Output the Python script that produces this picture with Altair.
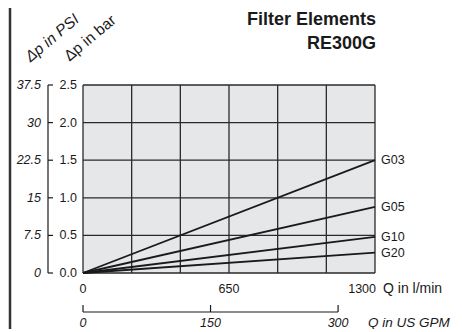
import altair as alt
import pandas as pd

# ---- data ----
series = ["G03", "G05", "G10", "G20"]
dp_at_max = [1.5, 0.88, 0.48, 0.27]          # bar at 1300 l/min
q_max = 1300
bar_ticks = [0.0, 0.5, 1.0, 1.5, 2.0, 2.5]
bar_labels = ["0.0", "0.5", "1.0", "1.5", "2.0", "2.5"]
psi_ticks = [0, 7.5, 15, 22.5, 30, 37.5]
psi_labels = ["0", "7.5", "15", "22.5", "30", "37.5"]
psi_per_bar = 15
lpm_grid = [0, 1300 / 6, 2600 / 6, 650, 5200 / 6, 6500 / 6, 1300]
lpm_ticks = [0, 650]
lpm_labels = ["0", "650"]
gpm_ticks = [0, 150, 300]
gpm_labels = ["0", "150", "300"]
lpm_per_gpm = 3.785411784

W, H = 292, 188
FONT = "Liberation Sans"
INK = "#1a1a1a"
GRID = "#2a2a2a"
FS = 12.5

rows = []
for s, v in zip(series, dp_at_max):
    rows.append({"series": s, "q": 0, "dp": 0.0})
    rows.append({"series": s, "q": q_max, "dp": v})
lines_df = pd.DataFrame(rows)
ends_df = pd.DataFrame({"series": series, "q": [q_max] * len(series), "dp": dp_at_max})

vgrid_df = pd.DataFrame({"q": lpm_grid})
hgrid_df = pd.DataFrame({"dp": bar_ticks, "label": bar_labels})
xlab_df = pd.DataFrame({"q": lpm_ticks, "label": lpm_labels})

psi_df = pd.DataFrame({"psi": psi_ticks, "label": psi_labels})
psi_df["dp"] = psi_df["psi"] / psi_per_bar
psi_dom = pd.DataFrame({"dp": [0.0], "hi": [max(psi_ticks) / psi_per_bar]})

gpm_df = pd.DataFrame({"gpm": gpm_ticks, "label": gpm_labels})
gpm_df["q"] = gpm_df["gpm"] * lpm_per_gpm
gpm_dom = pd.DataFrame({"q": [0.0], "hi": [max(gpm_ticks) * lpm_per_gpm]})

xscale = alt.Scale(domain=[0, q_max], nice=False, zero=True)
yscale = alt.Scale(domain=[0, 2.5], nice=False, zero=True)
X = alt.X("q:Q", scale=xscale, axis=None)
Y = alt.Y("dp:Q", scale=yscale, axis=None)

# plot background
bg = alt.Chart(pd.DataFrame({"q": [0], "hi": [q_max], "dp": [0.0], "top": [2.5]})).mark_rect(
    color="#e6e7e9"
).encode(x=X, x2="hi:Q", y=Y, y2="top:Q")

vgrid = alt.Chart(vgrid_df).mark_rule(color=GRID, strokeWidth=1.3).encode(x=X)
hgrid = alt.Chart(hgrid_df).mark_rule(color=GRID, strokeWidth=1.3).encode(y=Y)
ylab = alt.Chart(hgrid_df).mark_text(
    align="right", baseline="middle", fontSize=FS, color=INK, font=FONT
).encode(y=Y, x=alt.value(-6), text="label:N")
xlab = alt.Chart(xlab_df).mark_text(
    align="center", baseline="middle", fontSize=FS, color=INK, font=FONT
).encode(x=X, y=alt.value(H + 16), text="label:N")

lines = alt.Chart(lines_df).mark_line(color=INK, strokeWidth=1.8).encode(
    x=X, y=Y, detail="series:N"
)
line_labels = alt.Chart(ends_df).mark_text(
    align="left", baseline="middle", dx=6, fontSize=FS, color=INK, font=FONT
).encode(x=X, y=Y, text="series:N")

# PSI axis (left bracket with inward ticks)
psi_line = alt.Chart(psi_dom).mark_rule(color=INK, strokeWidth=1.2).encode(
    x=alt.value(-35), y=Y, y2="hi:Q"
)
psi_tick = alt.Chart(psi_df).mark_rule(color=INK, strokeWidth=1.2).encode(
    y=Y, x=alt.value(-35), x2=alt.value(-30)
)
psi_text = alt.Chart(psi_df).mark_text(
    align="right", baseline="middle", fontSize=FS, fontStyle="italic", color=INK, font=FONT
).encode(y=Y, x=alt.value(-42), text="label:N")

# GPM axis (below, upward ticks)
gpm_line = alt.Chart(gpm_dom).mark_rule(color=INK, strokeWidth=1.2).encode(
    x=X, x2="hi:Q", y=alt.value(H + 39)
)
gpm_tick = alt.Chart(gpm_df).mark_rule(color=INK, strokeWidth=1.2).encode(
    x=X, y=alt.value(H + 32), y2=alt.value(H + 39)
)
gpm_text = alt.Chart(gpm_df).mark_text(
    align="center", baseline="middle", fontSize=FS, fontStyle="italic", color=INK, font=FONT
).encode(x=X, y=alt.value(H + 50), text="label:N")

# axis end labels
end_df = pd.DataFrame({"q": [q_max], "l1": ["1300"], "u1": ["Q in l/min"], "u2": ["Q in US GPM"]})
x1300 = alt.Chart(end_df).mark_text(
    align="right", baseline="middle", dx=1, fontSize=FS, color=INK, font=FONT
).encode(x=X, y=alt.value(H + 16), text="l1:N")
unit1 = alt.Chart(end_df).mark_text(
    align="left", baseline="middle", dx=8, fontSize=14, color=INK, font=FONT
).encode(x=X, y=alt.value(H + 16), text="u1:N")
unit2 = alt.Chart(end_df).mark_text(
    align="left", baseline="middle", dx=-7, fontSize=13.5, fontStyle="italic", color=INK, font=FONT
).encode(x=X, y=alt.value(H + 50), text="u2:N")

# titles
t_df = pd.DataFrame({"t1": ["Filter Elements"], "t2": ["RE300G"],
                     "a1": ["\u0394p in PSI"], "a2": ["\u0394p in bar"]})
title1 = alt.Chart(t_df).mark_text(
    align="right", baseline="middle", fontSize=18, fontWeight="bold", color=INK, font=FONT
).encode(x=alt.value(W + 1), y=alt.value(-65), text="t1:N")
title2 = alt.Chart(t_df).mark_text(
    align="right", baseline="middle", fontSize=18, fontWeight="bold", color=INK, font=FONT
).encode(x=alt.value(W + 1), y=alt.value(-41), text="t2:N")
ax1 = alt.Chart(t_df).mark_text(
    align="center", baseline="middle", fontSize=15.5, fontStyle="italic", angle=320, color=INK, font=FONT
).encode(x=alt.value(-31), y=alt.value(-47), text="a1:N")
ax2 = alt.Chart(t_df).mark_text(
    align="center", baseline="middle", fontSize=15.5, angle=320, color=INK, font=FONT
).encode(x=alt.value(7), y=alt.value(-47), text="a2:N")

# left page border
border = alt.Chart(t_df).mark_rule(color="#333333", strokeWidth=2.5).encode(
    x=alt.value(-73), y=alt.value(-80), y2=alt.value(H + 60)
)

chart = alt.layer(
    bg, vgrid, hgrid, ylab, xlab, lines, line_labels,
    psi_line, psi_tick, psi_text,
    gpm_line, gpm_tick, gpm_text, x1300, unit1, unit2,
    title1, title2, ax1, ax2, border,
).properties(
    width=W, height=H,
    autosize=alt.AutoSizeParams(type="none"),
    padding={"left": 75, "top": 77, "right": 79, "bottom": 56},
    background="white",
).configure(font=FONT).configure_view(stroke=None)

chart.save("out.html", embed_options={"renderer": "svg", "actions": False})
